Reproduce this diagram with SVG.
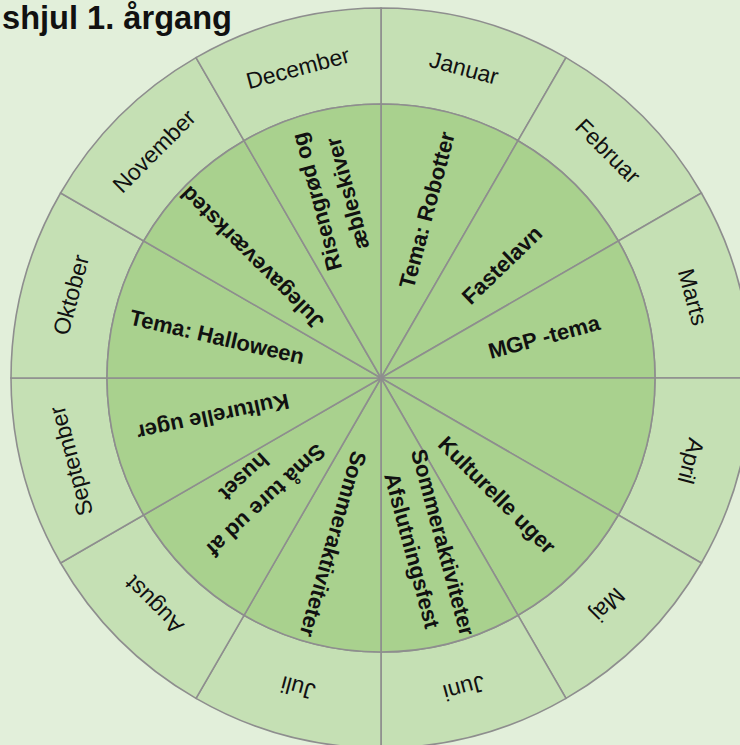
<svg xmlns="http://www.w3.org/2000/svg" width="740" height="745" viewBox="0 0 740 745">
<style>
.out{fill:#C5E0B4;stroke:#8E8E8E;stroke-width:1.6}
.inn{fill:#A9D18E;stroke:#8E8E8E;stroke-width:1.6}
.m{font-family:"Liberation Sans",Arial,sans-serif;font-size:23px;fill:#111;text-anchor:middle;dominant-baseline:central}
.a{font-family:"Liberation Sans",Arial,sans-serif;font-size:22px;font-weight:bold;fill:#111;text-anchor:middle;dominant-baseline:central}
.t{font-family:"Liberation Sans",Arial,sans-serif;font-size:33px;font-weight:bold;fill:#111}
</style>
<rect width="740" height="745" fill="#E2EFDA"/>
<text class="t" x="2" y="29" textLength="230" lengthAdjust="spacingAndGlyphs">shjul 1. årgang</text>
<g id="months">
<g id="m-januar"><path class="out" d="M381,8 A370,370 0 0 1 566,57.6 L518,140.7 A274,274 0 0 0 381,104 Z"/><text class="m" transform="translate(464.1,67.9) rotate(15)">Januar</text></g>
<g id="m-februar"><path class="out" d="M566,57.6 A370,370 0 0 1 701.4,193 L618.3,241 A274,274 0 0 0 518,140.7 Z"/><text class="m" transform="translate(608,151) rotate(45)">Februar</text></g>
<g id="m-marts"><path class="out" d="M701.4,193 A370,370 0 0 1 751,378 L655,378 A274,274 0 0 0 618.3,241 Z"/><text class="m" transform="translate(693,297) rotate(75)">Marts</text></g>
<g id="m-april"><path class="out" d="M751,378 A370,370 0 0 1 701.4,563 L618.3,515 A274,274 0 0 0 655,378 Z"/><text class="m" transform="translate(691.1,461.1) rotate(105)">April</text></g>
<g id="m-maj"><path class="out" d="M701.4,563 A370,370 0 0 1 566,698.4 L518,615.3 A274,274 0 0 0 618.3,515 Z"/><text class="m" transform="translate(608,605) rotate(135)">Maj</text></g>
<g id="m-juni"><path class="out" d="M566,698.4 A370,370 0 0 1 381,748 L381,652 A274,274 0 0 0 518,615.3 Z"/><text class="m" transform="translate(464.1,688.1) rotate(165)">Juni</text></g>
<g id="m-juli"><path class="out" d="M381,748 A370,370 0 0 1 196,698.4 L244,615.3 A274,274 0 0 0 381,652 Z"/><text class="m" transform="translate(297.9,688.1) rotate(195)">Juli</text></g>
<g id="m-august"><path class="out" d="M196,698.4 A370,370 0 0 1 60.6,563 L143.7,515 A274,274 0 0 0 244,615.3 Z"/><text class="m" transform="translate(154,605) rotate(225)">August</text></g>
<g id="m-september"><path class="out" d="M60.6,563 A370,370 0 0 1 11,378 L107,378 A274,274 0 0 0 143.7,515 Z"/><text class="m" transform="translate(70.9,461.1) rotate(255)">September</text></g>
<g id="m-oktober"><path class="out" d="M11,378 A370,370 0 0 1 60.6,193 L143.7,241 A274,274 0 0 0 107,378 Z"/><text class="m" transform="translate(70.9,294.9) rotate(285)">Oktober</text></g>
<g id="m-november"><path class="out" d="M60.6,193 A370,370 0 0 1 196,57.6 L244,140.7 A274,274 0 0 0 143.7,241 Z"/><text class="m" transform="translate(154,151) rotate(315)">November</text></g>
<g id="m-december"><path class="out" d="M196,57.6 A370,370 0 0 1 381,8 L381,104 A274,274 0 0 0 244,140.7 Z"/><text class="m" transform="translate(297.9,67.9) rotate(345)">December</text></g>
</g>
<g id="activities">
<g id="a-januar"><path class="inn" d="M381,378 L381,104 A274,274 0 0 1 518,140.7 Z"/><text class="a" transform="translate(427,210) rotate(-75)">Tema: Robotter</text></g>
<g id="a-februar"><path class="inn" d="M381,378 L518,140.7 A274,274 0 0 1 618.3,241 Z"/><text class="a" transform="translate(502,265) rotate(-44)">Fastelavn</text></g>
<g id="a-marts"><path class="inn" d="M381,378 L618.3,241 A274,274 0 0 1 655,378 Z"/><text class="a" transform="translate(544,337) rotate(-15)">MGP -tema</text></g>
<g id="a-april"><path class="inn" d="M381,378 L655,378 A274,274 0 0 1 618.3,515 Z"/></g>
<g id="a-maj"><path class="inn" d="M381,378 L618.3,515 A274,274 0 0 1 518,615.3 Z"/><text class="a" transform="translate(497,495) rotate(45)">Kulturelle uger</text></g>
<g id="a-juni"><path class="inn" d="M381,378 L518,615.3 A274,274 0 0 1 381,652 Z"/><g transform="translate(427.5,546.5) rotate(75)"><text class="a" x="0" y="-16">Sommeraktiviteter</text><text class="a" x="0" y="16">Afslutningsfest</text></g></g>
<g id="a-juli"><path class="inn" d="M381,378 L381,652 A274,274 0 0 1 244,615.3 Z"/><text class="a" transform="translate(333,544) rotate(106)">Sommeraktiviteter</text></g>
<g id="a-august"><path class="inn" d="M381,378 L244,615.3 A274,274 0 0 1 143.7,515 Z"/><g transform="translate(255,488.5) rotate(137)"><text class="a" x="0" y="-16">Små ture ud af</text><text class="a" x="0" y="16">huset</text></g></g>
<g id="a-september"><path class="inn" d="M381,378 L143.7,515 A274,274 0 0 1 107,378 Z"/><text class="a" transform="translate(213,417) rotate(168)">Kulturelle uger</text></g>
<g id="a-oktober"><path class="inn" d="M381,378 L107,378 A274,274 0 0 1 143.7,241 Z"/><text class="a" transform="translate(217,337) rotate(13)">Tema: Halloween</text></g>
<g id="a-november"><path class="inn" d="M381,378 L143.7,241 A274,274 0 0 1 244,140.7 Z"/><text class="a" transform="translate(252,258) rotate(225)">Julegaveværksted</text></g>
<g id="a-december"><path class="inn" d="M381,378 L244,140.7 A274,274 0 0 1 381,104 Z"/><g transform="translate(332,197.5) rotate(255)"><text class="a" x="0" y="-16">Risengrød og</text><text class="a" x="0" y="16">æbleskiver</text></g></g>
</g>
</svg>
